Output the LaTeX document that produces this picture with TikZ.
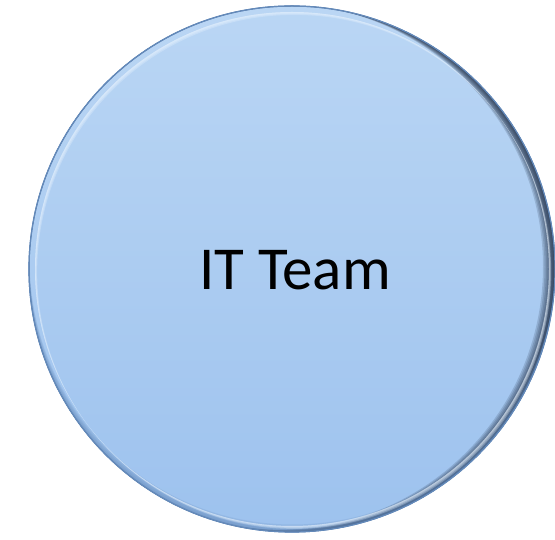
\documentclass[tikz,border=0pt]{standalone}
\usepackage{fontspec}
\setmainfont{Carlito}
\usetikzlibrary{calc}
\definecolor{ctop}{RGB}{186,214,244}
\definecolor{cbot}{RGB}{157,194,238}
\definecolor{crim}{RGB}{100,138,186}
\definecolor{cdark}{RGB}{25,38,60}
\definecolor{clight}{RGB}{232,243,254}
\tikzset{
  disc/.style={circle, minimum size=526pt, inner sep=0pt, top color=ctop, bottom color=cbot, draw=crim, line width=1.2pt},
  lbl/.style={font=\fontsize{61}{72}\selectfont, text=black}
}
\begin{document}
\begin{tikzpicture}[x=1pt,y=1pt]
\useasboundingbox (0,0) rectangle (555,540);
\fill[white] (0,0) rectangle (555,540);
\node[disc] (c) at (292,271) {};
\begin{scope}
\clip (292,271) circle (263pt);
% dark shadow on the right side (stacked crescents)
\foreach \d in {1.5,3,...,12}{
  \fill[cdark, opacity=0.16, even odd rule] (292,271) circle (263pt) ($(292,271)+(-\d,0.2*\d)$) circle (263pt);
}
% rim along the bottom
\foreach \d in {1.5,3,...,7.5}{
  \fill[crim, opacity=0.18, even odd rule] (292,271) circle (263pt) ($(292,271)+(0.1*\d,\d)$) circle (263pt);
}
% highlight on the upper left
\foreach \d in {1.2,2.4,3.6}{
  \fill[clight, opacity=0.3, even odd rule] (292,271) circle (257pt) ($(292,271)+(0.6*\d,-0.8*\d)$) circle (257pt);
}
\end{scope}
\draw[crim, line width=1.2pt] (c.center) circle (263pt);
\node[lbl] (t) at (c.center) [xshift=3pt, yshift=-1pt] {IT Team};
\end{tikzpicture}
\end{document}
